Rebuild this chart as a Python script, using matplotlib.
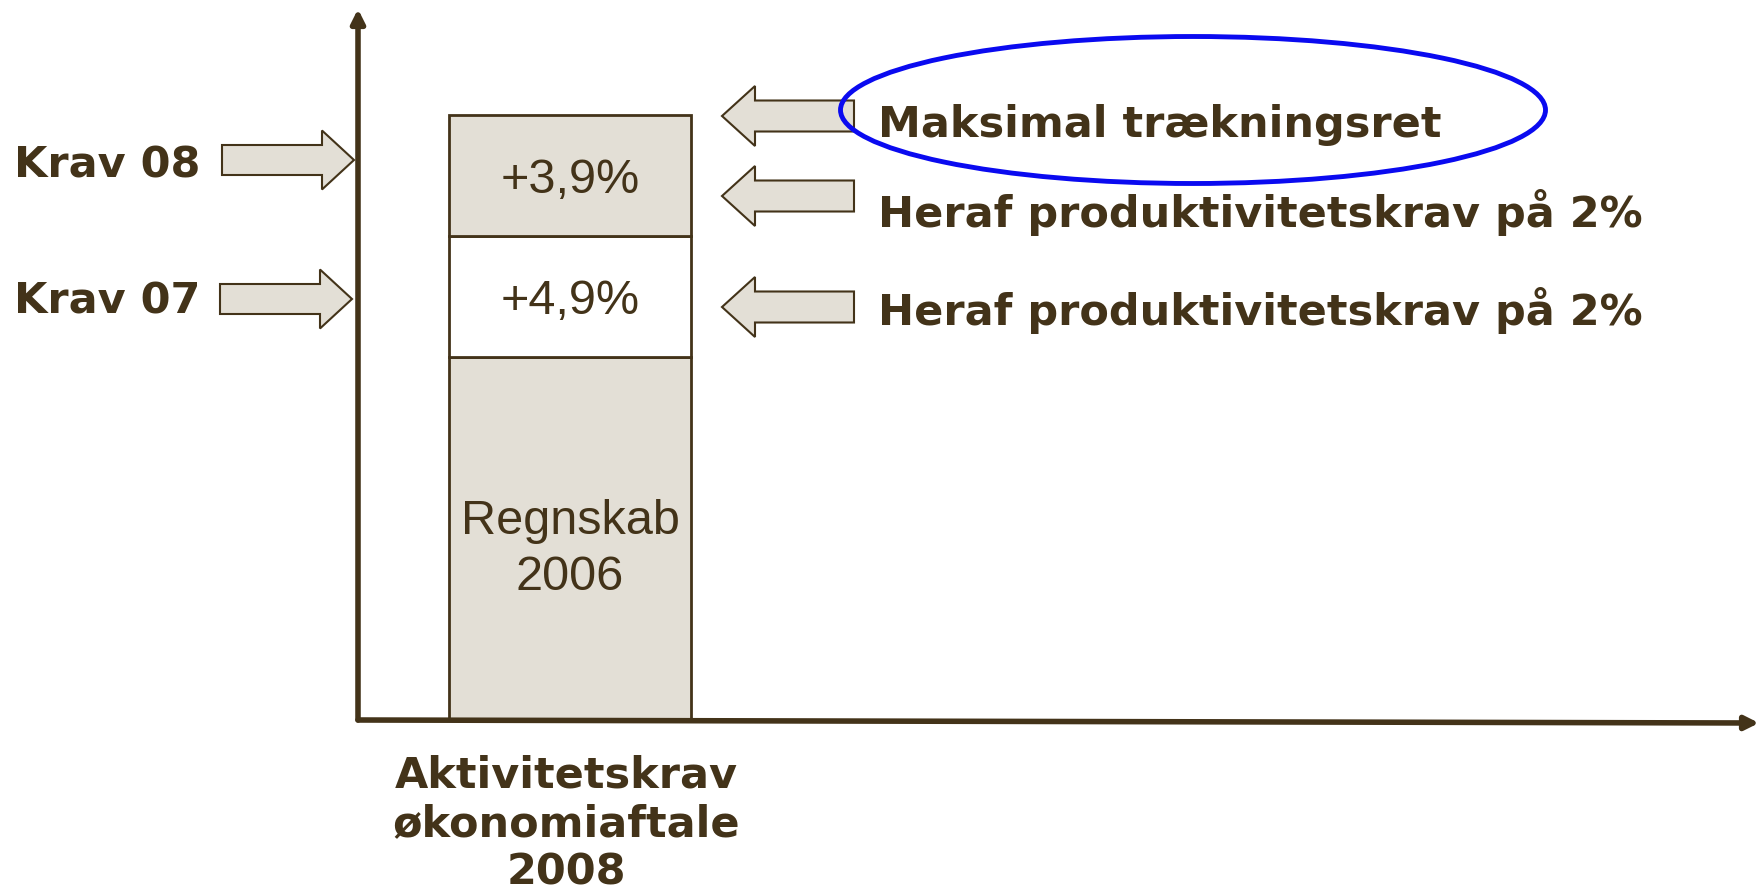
import matplotlib
matplotlib.use("Agg")
import matplotlib.pyplot as plt
from matplotlib.patches import FancyArrow, Ellipse

# ---- data ----
category = ["Aktivitetskrav\nøkonomiaftale\n2008"]
segment_labels = ["Regnskab\n2006", "+4,9%", "+3,9%"]
segment_heights = [3.0, 1.0, 1.0]
segment_colors = ["#e3dfd6", "#ffffff", "#e3dfd6"]
left_labels = ["Krav 08", "Krav 07"]
right_labels = ["Maksimal trækningsret",
                "Heraf produktivitetskrav på 2%",
                "Heraf produktivitetskrav på 2%"]

DARK = "#433319"
W, H = 1759, 891
fig = plt.figure(figsize=(W / 100, H / 100), dpi=100)

# main data axes (origin at the axis corner)
ax_l, ax_r, ax_t, ax_b = 358, 1759, 9, 720
ax = fig.add_axes([ax_l / W, (H - ax_b) / H, (ax_r - ax_l) / W, (ax_b - ax_t) / H])
unit_y = 121.0
unit_x = 242.0
ax.set_ylim(0, (ax_b - ax_t) / unit_y)
ax.set_xlim(0, (ax_r - ax_l) / unit_x)
ax.axis("off")

xpos = (570 - ax_l) / unit_x
bottom = 0.0
for lab, h, c in zip(segment_labels, segment_heights, segment_colors):
    ax.bar(xpos, h, width=1.0, bottom=bottom, color=c, edgecolor=DARK,
           linewidth=2, zorder=2)
    ax.text(xpos, bottom + h / 2, lab, ha="center", va="center_baseline",
            fontsize=35, family="Liberation Sans", color=DARK,
            linespacing=1.34, zorder=3)
    bottom += h

# axes lines with arrowheads
ax.annotate("", xy=(0, 1), xytext=(0, 0), xycoords="axes fraction",
            arrowprops=dict(arrowstyle="-|>,head_length=0.8,head_width=0.4",
                            lw=4, color=DARK, shrinkA=0, shrinkB=0),
            annotation_clip=False)
ax.annotate("", xy=(1, -3 / (ax_b - ax_t)), xytext=(0, 0), xycoords="axes fraction",
            arrowprops=dict(arrowstyle="-|>,head_length=0.8,head_width=0.4",
                            lw=4, color=DARK, shrinkA=0, shrinkB=0),
            annotation_clip=False)

# overlay axes in pixel coordinates for annotations
ov = fig.add_axes([0, 0, 1, 1], zorder=5)
ov.set_xlim(0, W)
ov.set_ylim(H, 0)
ov.axis("off")
ov.patch.set_alpha(0)

# category label under bar
ov.text(566, 824, category[0], ha="center", va="center", fontsize=31,
        fontweight="bold", family="DejaVu Sans", color=DARK, linespacing=1.2)

# left labels and right-pointing block arrows
left_baselines = [177, 313]
left_tips = [(354, 160), (352, 299)]
for lab, yb, (tx, ty) in zip(left_labels, left_baselines, left_tips):
    ov.text(14, yb, lab, ha="left", va="baseline", fontsize=31,
            fontweight="bold", family="DejaVu Sans", color=DARK)
    ov.add_patch(FancyArrow(tx - 132, ty, 132, 0, width=30, head_width=59,
                            head_length=32, length_includes_head=True,
                            facecolor="#e3dfd6", edgecolor=DARK, linewidth=1.5))

# right labels and left-pointing block arrows
right_baselines = [137, 227, 325]
right_tips = [116, 196, 307]
for lab, yb, ty in zip(right_labels, right_baselines, right_tips):
    ov.text(878, yb, lab, ha="left", va="baseline", fontsize=31,
            fontweight="bold", family="DejaVu Sans", color=DARK)
    ov.add_patch(FancyArrow(854, ty, -132, 0, width=31, head_width=60,
                            head_length=33, length_includes_head=True,
                            facecolor="#e3dfd6", edgecolor=DARK, linewidth=1.5))

# highlight ellipse
ov.add_patch(Ellipse((1193, 110), 705, 147, fill=False, edgecolor="#0a0af0",
                     linewidth=3.5))

fig.savefig("out.png", dpi=100, facecolor="white")
